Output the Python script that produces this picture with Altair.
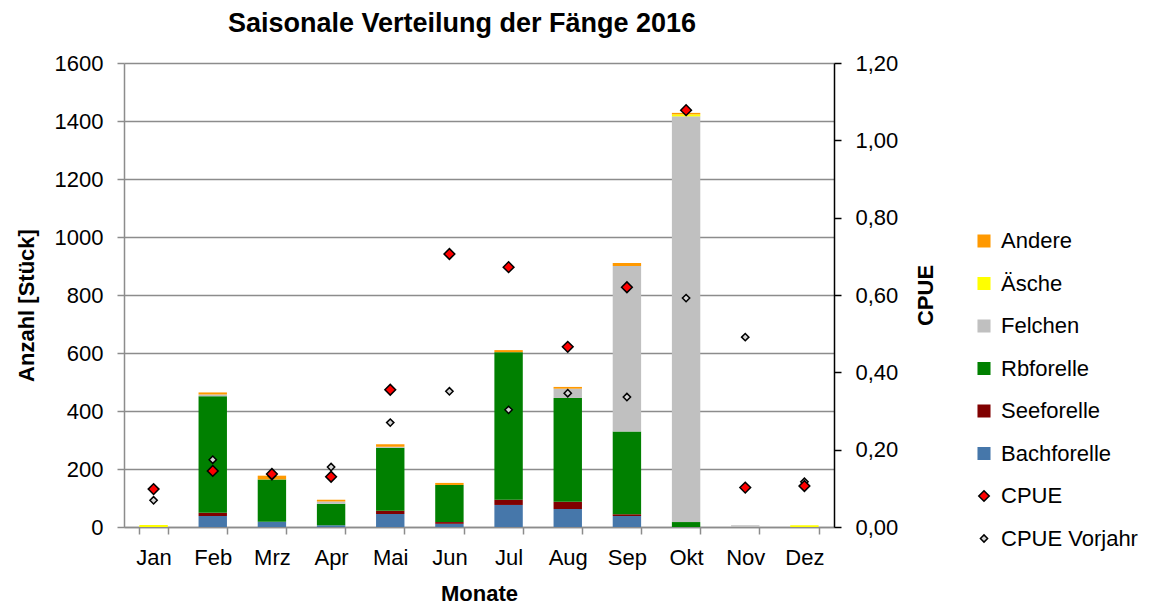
import altair as alt
import pandas as pd

months = ["Jan", "Feb", "Mrz", "Apr", "Mai", "Jun", "Jul", "Aug", "Sep", "Okt", "Nov", "Dez"]

bachforelle = [0, 38, 18, 6, 45, 11, 76, 62, 38, 0, 0, 0]
seeforelle = [0, 11, 0, 0, 11, 6, 18, 25, 6, 0, 0, 0]
rbforelle = [0, 402, 146, 74, 217, 128, 509, 358, 285, 17, 0, 0]
felchen = [0, 6, 0, 8, 4, 0, 0, 32, 571, 1399, 6, 0]
aesche = [7, 0, 0, 0, 0, 0, 0, 0, 0, 7, 0, 6]
andere = [0, 7, 13, 6, 8, 7, 7, 6, 10, 5, 0, 0]

cpue = [0.098, 0.145, 0.137, 0.130, 0.355, 0.706, 0.672, 0.466, 0.620, 1.078, 0.102, 0.106]
cpue_vorjahr = [0.069, 0.174, 0.132, 0.155, 0.270, 0.351, 0.303, 0.346, 0.336, 0.592, 0.491, 0.117]

bar_series = ["Bachforelle", "Seeforelle", "Rbforelle", "Felchen", "Äsche", "Andere"]
bar_values = [bachforelle, seeforelle, rbforelle, felchen, aesche, andere]

legend_order = ["Andere", "Äsche", "Felchen", "Rbforelle", "Seeforelle", "Bachforelle", "CPUE", "CPUE Vorjahr"]
fill_colors = ["#FF9900", "#FFFF00", "#C0C0C0", "#008000", "#800000", "#4677AA", "#FF0000", "#D4D4D4"]
stroke_colors = ["#FF9900", "#FFFF00", "#C0C0C0", "#008000", "#800000", "#4677AA", "#000000", "#000000"]
sq = "M-1.1,-1.1H1.1V1.1H-1.1Z"
shapes = [sq, sq, sq, sq, sq, sq, "M-1,0L0,-1L1,0L0,1Z", "M-0.68,0L0,-0.68L0.68,0L0,0.68Z"]

rows = []
for k, (s, vals) in enumerate(zip(bar_series, bar_values)):
    for m, v in zip(months, vals):
        rows.append({"Monat": m, "Art": s, "Anzahl": v, "ord": k})
bars_df = pd.DataFrame(rows)

prow = []
for s, vals in [("CPUE Vorjahr", cpue_vorjahr), ("CPUE", cpue)]:
    for m, v in zip(months, vals):
        prow.append({"Monat": m, "Art": s, "CPUE": v})
pts_df = pd.DataFrame(prow)

FONT = "Liberation Sans"

leg = alt.Legend(
    title=None, orient="none", legendX=849, legendY=167,
    labelFont=FONT, labelFontSize=22, labelColor="black",
    symbolSize=110, rowPadding=20.5, labelOffset=6, symbolStrokeWidth=1.5,
)
fill_scale = alt.Scale(domain=legend_order, range=fill_colors)
stroke_scale = alt.Scale(domain=legend_order, range=stroke_colors)
shape_scale = alt.Scale(domain=legend_order, range=shapes)

x_enc = alt.X(
    "Monat:N", sort=months,
    scale=alt.Scale(paddingInner=0.52, paddingOuter=0.26),
    axis=alt.Axis(
        title="Monate", labelAngle=0, tickBand="extent", grid=False,
        domainColor="#8c8c8c", domainWidth=1.5, tickColor="#8c8c8c", tickWidth=1.5,
        tickSize=7, labelPadding=13, titlePadding=15,
    ),
)

bars = alt.Chart(bars_df).mark_bar().encode(
    x=x_enc,
    y=alt.Y(
        "Anzahl:Q", stack="zero", scale=alt.Scale(domain=[0, 1600]),
        axis=alt.Axis(
            title="Anzahl [Stück]", values=list(range(0, 1601, 200)), format="d", grid=True,
            gridColor="#8c8c8c", gridWidth=1.3, domainColor="#8c8c8c", domainWidth=1.5,
            tickColor="#8c8c8c", tickWidth=1.5, tickSize=7, labelPadding=14,
            titleAngle=270, titleX=-98, titleY=242, titleAlign="center", titleBaseline="middle",
        ),
    ),
    fill=alt.Fill("Art:N", scale=fill_scale, legend=leg),
    order=alt.Order("ord:Q"),
)

points = alt.Chart(pts_df).mark_point(filled=True, size=115, strokeWidth=1.5, opacity=1).encode(
    x=alt.X("Monat:N", sort=months),
    y=alt.Y(
        "CPUE:Q", scale=alt.Scale(domain=[0, 1.2]),
        axis=alt.Axis(
            orient="right", title="CPUE", values=[0, 0.2, 0.4, 0.6, 0.8, 1.0, 1.2],
            labelExpr="replace(format(datum.value, '.2f'), '.', ',')", grid=False,
            domainColor="black", domainWidth=1.5, tickColor="black", tickWidth=1.5,
            tickSize=7, labelPadding=14,
            titleAngle=270, titleX=91, titleY=232, titleAlign="center", titleBaseline="middle",
        ),
    ),
    fill=alt.Fill("Art:N", scale=fill_scale, legend=leg),
    stroke=alt.Stroke("Art:N", scale=stroke_scale, legend=leg),
    shape=alt.Shape("Art:N", scale=shape_scale, legend=leg),
)

chart = (
    alt.layer(bars, points)
    .resolve_scale(y="independent")
    .properties(
        width=710, height=464,
        title=alt.Title(
            "Saisonale Verteilung der Fänge 2016", font=FONT, fontSize=27, fontWeight="bold",
            color="black", anchor="middle", baseline="bottom", offset=15, dx=-17, dy=28,
        ),
        autosize=alt.AutoSizeParams(type="none"),
        padding={"left": 116, "top": 55, "right": 316, "bottom": 78},
    )
    .configure_view(stroke="transparent")
    .configure_axis(
        labelFont=FONT, labelFontSize=22, labelColor="black",
        titleFont=FONT, titleFontSize=22, titleFontWeight="bold", titleColor="black",
    )
)

chart.save("out.html", embed_options={"renderer": "svg", "actions": False})
